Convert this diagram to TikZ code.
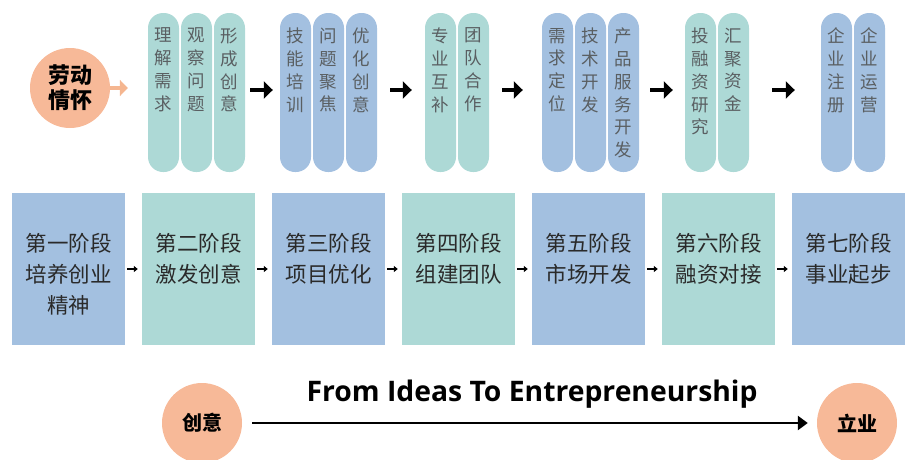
\documentclass[tikz,border=0pt]{standalone}
\usepackage{fontspec}
\setmainfont{Noto Sans CJK SC}
\newfontfamily\enfont{Open Sans}
\usetikzlibrary{arrows.meta}
\definecolor{tealc}{HTML}{ADD9D6}
\definecolor{bluec}{HTML}{A3C0E0}
\definecolor{orangec}{HTML}{F7B998}
\definecolor{orangea}{HTML}{F5B690}
\definecolor{pilltext}{HTML}{5A5F62}
\definecolor{boxtext}{HTML}{2A2A2A}
\begin{document}
\begin{tikzpicture}[x=1pt,y=-1pt,
  pill/.style={rectangle, rounded corners=15pt, minimum width=31pt, minimum height=159pt, inner sep=0pt, draw=none},
  tpill/.style={pill, fill=tealc},
  bpill/.style={pill, fill=bluec},
  ptxt/.style={anchor=north, align=center, inner sep=0pt, text=pilltext, font=\fontsize{17.5}{22.8}\selectfont},
  stage/.style={rectangle, minimum width=113pt, minimum height=152pt, inner sep=0pt, draw=none},
  tstage/.style={stage, fill=tealc},
  bstage/.style={stage, fill=bluec},
  stxt/.style={anchor=north, align=center, inner sep=0pt, text=boxtext, font=\fontsize{21.5}{31}\selectfont},
  circ/.style={circle, fill=orangec, minimum size=80pt, inner sep=0pt, align=center, text=black},
  bigarr/.style={line width=4pt, -{Triangle[length=9pt,width=17pt]}, black},
  smallarr/.style={line width=1.5pt, -{Triangle[length=4pt,width=6pt]}, black},
  orarr/.style={line width=4pt, -{Triangle[length=8pt,width=16pt]}, orangea},
  longarr/.style={line width=2.5pt, -{Triangle[length=10pt,width=14pt]}, black}
]
\useasboundingbox (0,0) rectangle (913,459);

% top-left circle
\node[circ, font=\bfseries\fontsize{22}{25}\selectfont] (c1) at (70,88) {劳动\\情怀};

% pills group 1
\node[tpill] (p11) at (163.5,92.5) {};
\node[tpill] (p12) at (196.5,92.5) {};
\node[tpill] (p13) at (229.5,92.5) {};
% group 2
\node[bpill] (p21) at (295.5,92.5) {};
\node[bpill] (p22) at (328.5,92.5) {};
\node[bpill] (p23) at (361.5,92.5) {};
% group 3
\node[tpill] (p31) at (440.5,92.5) {};
\node[tpill] (p32) at (473.5,92.5) {};
% group 4
\node[bpill] (p41) at (557.5,92.5) {};
\node[bpill] (p42) at (590.5,92.5) {};
\node[bpill] (p43) at (623.5,92.5) {};
% group 5
\node[tpill] (p51) at (700.5,92.5) {};
\node[tpill] (p52) at (733.5,92.5) {};
% group 6
\node[bpill] (p61) at (836.5,92.5) {};
\node[bpill] (p62) at (869.5,92.5) {};

% pill texts
\node[ptxt] (t11) at ([yshift=-15pt]p11.north) {理\\解\\需\\求};
\node[ptxt] (t12) at ([yshift=-15pt]p12.north) {观\\察\\问\\题};
\node[ptxt] (t13) at ([yshift=-15pt]p13.north) {形\\成\\创\\意};
\node[ptxt] (t21) at ([yshift=-15pt]p21.north) {技\\能\\培\\训};
\node[ptxt] (t22) at ([yshift=-15pt]p22.north) {问\\题\\聚\\焦};
\node[ptxt] (t23) at ([yshift=-15pt]p23.north) {优\\化\\创\\意};
\node[ptxt] (t31) at ([yshift=-15pt]p31.north) {专\\业\\互\\补};
\node[ptxt] (t32) at ([yshift=-15pt]p32.north) {团\\队\\合\\作};
\node[ptxt] (t41) at ([yshift=-15pt]p41.north) {需\\求\\定\\位};
\node[ptxt] (t42) at ([yshift=-15pt]p42.north) {技\\术\\开\\发};
\node[ptxt] (t43) at ([yshift=-15pt]p43.north) {产\\品\\服\\务\\开\\发};
\node[ptxt] (t51) at ([yshift=-15pt]p51.north) {投\\融\\资\\研\\究};
\node[ptxt] (t52) at ([yshift=-15pt]p52.north) {汇\\聚\\资\\金};
\node[ptxt] (t61) at ([yshift=-15pt]p61.north) {企\\业\\注\\册};
\node[ptxt] (t62) at ([yshift=-15pt]p62.north) {企\\业\\运\\营};

% orange arrow
\draw[orarr] (c1.east) -- ([xshift=-20pt]c1.east -| p11.west);

% black arrows between groups
\draw[bigarr, shorten <=5pt, shorten >=7pt] ([yshift=2.5pt]p13.east) -- ([yshift=2.5pt]p21.west);
\draw[bigarr, shorten <=13pt, shorten >=13pt] ([yshift=2.5pt]p23.east) -- ([yshift=2.5pt]p31.west);
\draw[bigarr, shorten <=13pt, shorten >=19pt] ([yshift=2.5pt]p32.east) -- ([yshift=2.5pt]p41.west);
\draw[bigarr, shorten <=11pt, shorten >=12pt] ([yshift=2.5pt]p43.east) -- ([yshift=2.5pt]p51.west);
\draw[bigarr, shorten <=23pt, shorten >=26pt] ([yshift=2.5pt]p52.east) -- ([yshift=2.5pt]p61.west);

% stage boxes
\node[bstage] (b1) at (68.5,269) {};
\node[tstage] (b2) at (198.5,269) {};
\node[bstage] (b3) at (328.5,269) {};
\node[tstage] (b4) at (458.5,269) {};
\node[bstage] (b5) at (588.5,269) {};
\node[tstage] (b6) at (718.5,269) {};
\node[bstage] (b7) at (848.5,269) {};

\node[stxt] (s1) at (68.5,233) {第一阶段\\培养创业\\精神};
\node[stxt] (s2) at (198.5,233) {第二阶段\\激发创意};
\node[stxt] (s3) at (328.5,233) {第三阶段\\项目优化};
\node[stxt] (s4) at (458.5,233) {第四阶段\\组建团队};
\node[stxt] (s5) at (588.5,233) {第五阶段\\市场开发};
\node[stxt] (s6) at (718.5,233) {第六阶段\\融资对接};
\node[stxt] (s7) at (848.5,233) {第七阶段\\事业起步};

\draw[smallarr, shorten <=2pt, shorten >=4pt] (b1) -- (b2);
\draw[smallarr, shorten <=2pt, shorten >=4pt] (b2) -- (b3);
\draw[smallarr, shorten <=2pt, shorten >=4pt] (b3) -- (b4);
\draw[smallarr, shorten <=2pt, shorten >=4pt] (b4) -- (b5);
\draw[smallarr, shorten <=2pt, shorten >=4pt] (b5) -- (b6);
\draw[smallarr, shorten <=2pt, shorten >=4pt] (b6) -- (b7);

% bottom
\node[circ, font=\bfseries\fontsize{20}{24}\selectfont] (c2) at (202,423) {创意};
\node[circ, font=\bfseries\fontsize{20}{24}\selectfont] (c3) at (857,423) {立业};
\draw[longarr, shorten <=10pt, shorten >=9pt] (c2) -- (c3);
\node[font=\enfont\bfseries\fontsize{28.3}{32}\selectfont, inner sep=0pt, text=black] (title) at (532,394) {From Ideas To Entrepreneurship};
\end{tikzpicture}
\end{document}
